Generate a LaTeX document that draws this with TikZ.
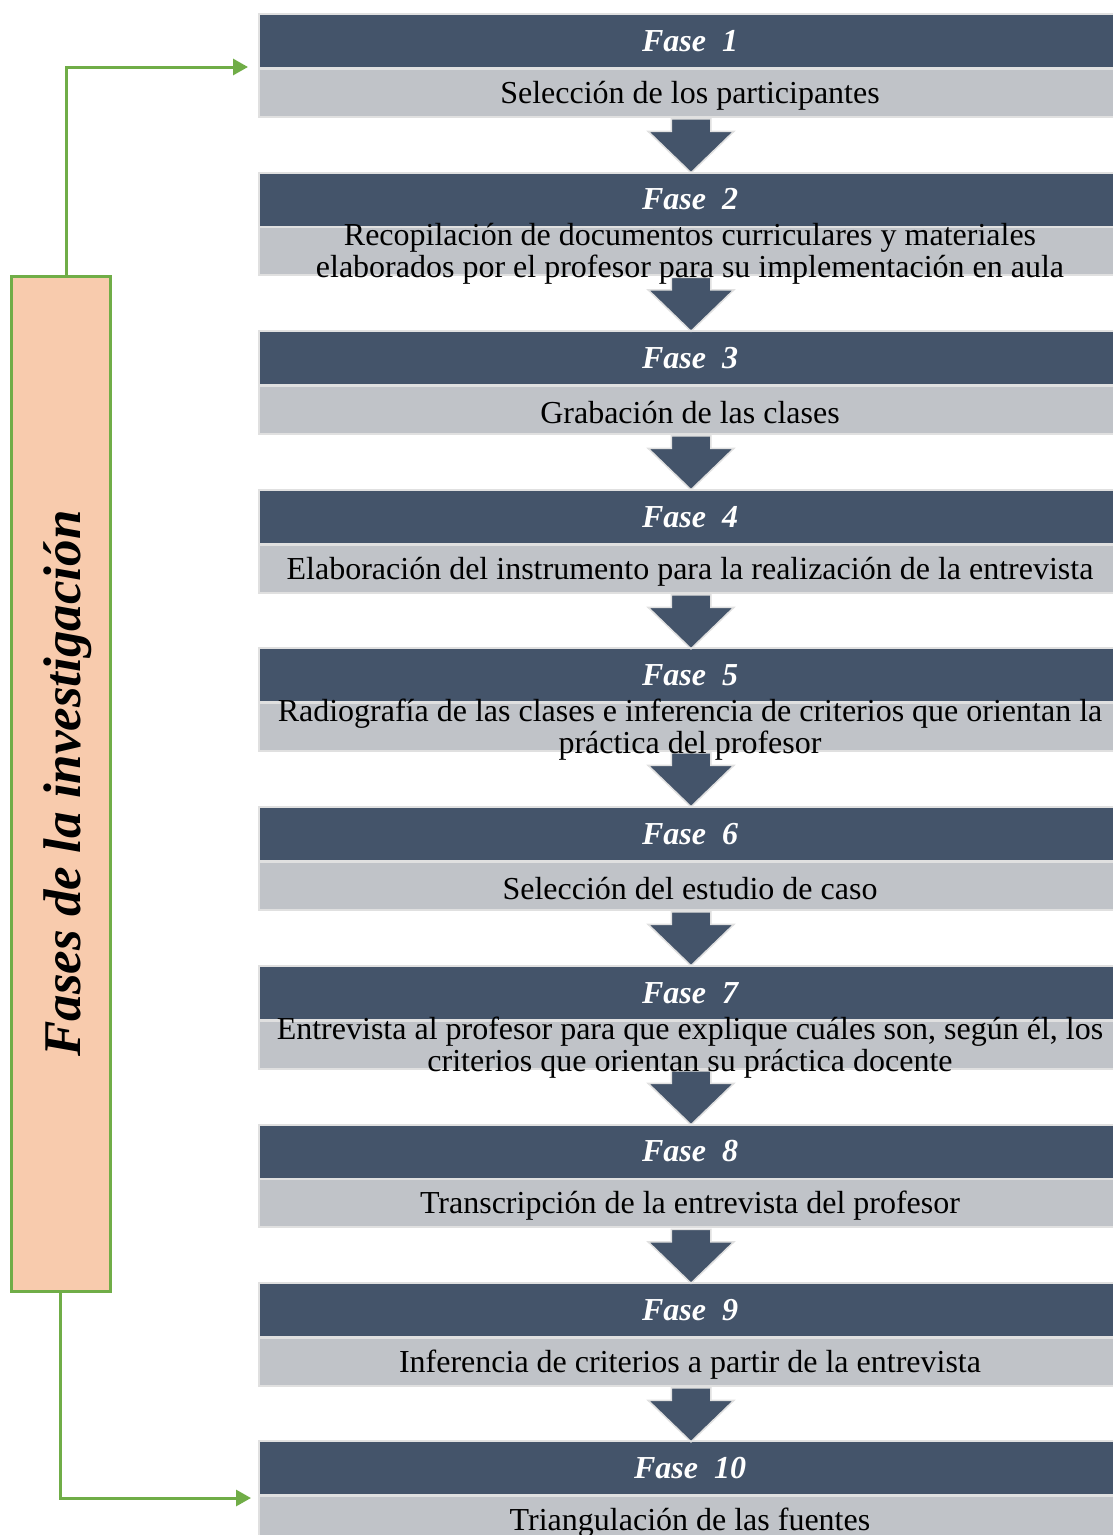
\documentclass[tikz,border=0pt]{standalone}
\usepackage{fontspec}
\setmainfont{Liberation Serif}
\usetikzlibrary{shapes.arrows,arrows.meta}

\definecolor{slate}{HTML}{44546A}
\definecolor{lightgrey}{HTML}{C0C3C8}
\definecolor{edge}{HTML}{E0E0E0}
\definecolor{leaf}{HTML}{70AD47}
\definecolor{peach}{HTML}{F8CBAD}

\tikzset{
  hdr/.style={rectangle, fill=slate, draw=edge, line width=2pt,
    minimum width=862pt, minimum height=54pt, inner sep=0pt,
    text=white, font=\fontsize{32}{34}\selectfont\bfseries\itshape},
  body/.style={rectangle, fill=lightgrey, draw=edge, line width=2pt,
    minimum width=862pt, minimum height=48pt, inner sep=0pt},
  bodytext/.style={align=center, inner sep=0pt, text=black, yshift=-3pt,
    font=\fontsize{32}{32.5}\selectfont},
  downarrow/.style={single arrow, shape border rotate=270, fill=slate,
    draw=edge, line width=1.5pt, minimum height=54pt,
    inner xsep=19pt, inner ysep=0pt, anchor=tail,
    single arrow head extend=23pt, single arrow head indent=0pt,
    single arrow tip angle=92},
  sidebox/.style={rectangle, fill=peach, draw=leaf, line width=3pt,
    minimum width=99pt, minimum height=1015pt, inner sep=0pt},
  conn/.style={draw=leaf, line width=3pt, -{Triangle[length=15pt,width=16pt]}},
}

\begin{document}
\begin{tikzpicture}[x=1pt,y=-1pt]
\useasboundingbox[fill=white] (0,0) rectangle (1113,1535);

% phase boxes: header bar and description bar
\foreach \k/\t in {1/14,2/172.5,3/331,4/490,5/648,6/807,7/966,8/1124.5,9/1283,10/1441}{
  \node[hdr]  (h\k) at (690,\t+27) {Fase~~\k};
  \node[body] (b\k) at (690,\t+78.5) {};
}

% arrows between phases
\foreach \k/\t in {1/14,2/172.5,3/331,4/490,5/648,6/807,7/966,8/1124.5,9/1283}{
  \node[downarrow] (a\k) at (691,\t+104) {};
}

% descriptions
\node[bodytext] (d1)  at (b1)  {Selección de los participantes};
\node[bodytext] (d2)  at (b2)  {Recopilación de documentos curriculares y materiales\\elaborados por el profesor para su implementación en aula};
\node[bodytext] (d3)  at (b3)  {Grabación de las clases};
\node[bodytext] (d4)  at (b4)  {Elaboración del instrumento para la realización de la entrevista};
\node[bodytext] (d5)  at (b5)  {Radiografía de las clases e inferencia de criterios que orientan la\\práctica del profesor};
\node[bodytext] (d6)  at (b6)  {Selección del estudio de caso};
\node[bodytext] (d7)  at (b7)  {Entrevista al profesor para que explique cuáles son, según él, los\\criterios que orientan su práctica docente};
\node[bodytext] (d8)  at (b8)  {Transcripción de la entrevista del profesor};
\node[bodytext] (d9)  at (b9)  {Inferencia de criterios a partir de la entrevista};
\node[bodytext] (d10) at (b10) {Triangulación de las fuentes};

% side label
\node[sidebox] (side) at (60.5,783.5) {};
\node[rotate=90, font=\fontsize{53}{56}\selectfont\bfseries\itshape] (sidelabel) at ([xshift=7pt]side.center) {Fases de la investigación};

% connectors to first and last phase
\coordinate (t1)  at (248,67);
\coordinate (t10) at (251,1498);
\draw[conn] (side.north) ++(5.5,1.5) |- (t1);
\draw[conn] (side.south) ++(0,-1.5) |- (t10);
\end{tikzpicture}
\end{document}
